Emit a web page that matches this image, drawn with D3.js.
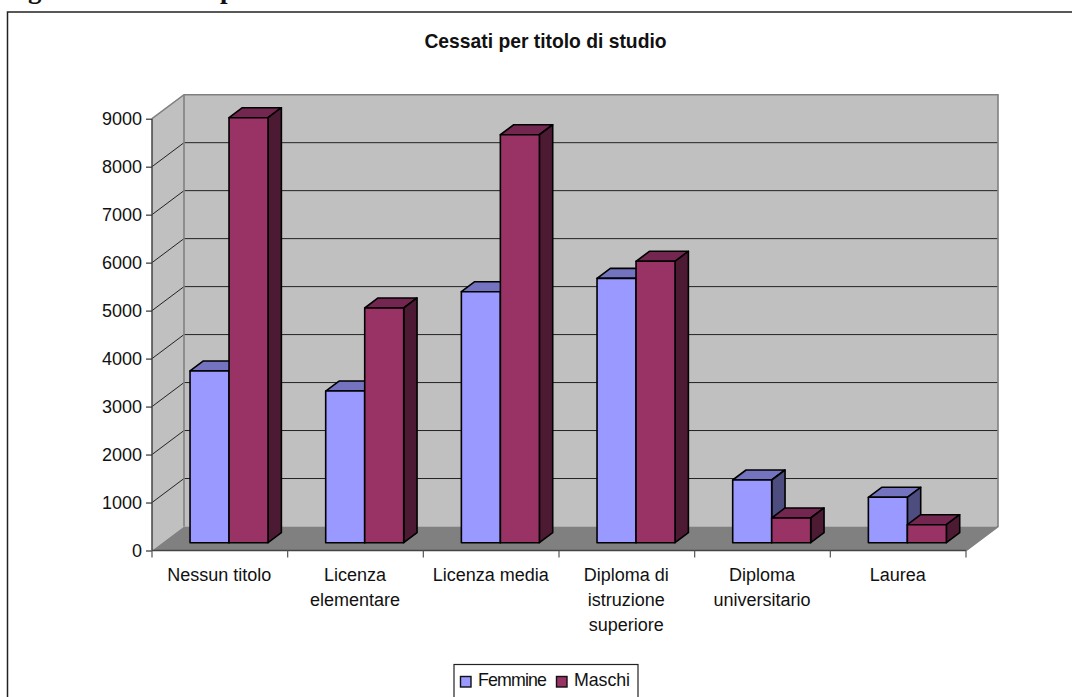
<!DOCTYPE html>
<html>
<head>
<meta charset="utf-8">
<script src="https://d3js.org/d3.v7.min.js"></script>
<style>
html, body { margin: 0; padding: 0; background: #fff; overflow: hidden; }
svg { display: block; }
text { font-family: "Liberation Sans", Arial, sans-serif; fill: #111; }
</style>
</head>
<body>
<svg id="chart" width="1072" height="697"></svg>
<script>
var title = "Cessati per titolo di studio";
var categories = ["Nessun titolo", "Licenza elementare", "Licenza media", "Diploma di istruzione superiore", "Diploma universitario", "Laurea"];
var categoryLines = [["Nessun titolo"], ["Licenza", "elementare"], ["Licenza media"], ["Diploma di", "istruzione", "superiore"], ["Diploma", "universitario"], ["Laurea"]];
var femmine = [3580, 3161, 5231, 5510, 1307, 946];
var maschi = [8858, 4892, 8503, 5865, 515, 375];
var yTicks = [0, 1000, 2000, 3000, 4000, 5000, 6000, 7000, 8000, 9000];
var seriesNames = ["Femmine", "Maschi"];
var seriesColors = [
    {front: "#9999ff", top: "#7373bf", side: "#4d4d80"},
    {front: "#993366", top: "#732650", side: "#4d1a33"}
];

var svg = d3.select("#chart");

// outer frame runs off the page on the right and at the bottom
svg.append("rect")
    .attr("x", 7.5).attr("y", 12)
    .attr("width", 1100).attr("height", 760)
    .attr("fill", "#fff").attr("stroke", "#222").attr("stroke-width", 1.5);

// bottoms of the heading above the frame, cut by the page edge
svg.append("text").attr("x", 28).attr("y", -2.5).style("font-family", "Liberation Serif")
    .style("font-weight", "bold").style("font-size", "27px").text("g");
svg.append("text").attr("x", 220).attr("y", -2.5).style("font-family", "Liberation Serif")
    .style("font-weight", "bold").style("font-size", "27px").text("p");

svg.append("text")
    .attr("x", 545.5).attr("y", 47.5)
    .attr("text-anchor", "middle")
    .style("font-weight", "bold").style("font-size", "19.3px")
    .text(title);

var left = 152, right = 966, bottom = 550.5, top9000 = 118.7;
var depthX = 32, depthY = 24;

var x = d3.scaleBand().domain(categories).range([left, right]);
var y = d3.scaleLinear().domain([0, 9000]).range([bottom, top9000]);
var series = d3.scaleBand().domain(seriesNames).range([0, 78]);

// project a point at depth t (0 front, 1 back wall) of the 3d box
function px(v, t) { return v + depthX * t; }
function py(v, t) { return y(v) - depthY * t; }
function poly(points) {
    return points.map(function(p) { return p.join(","); }).join(" ");
}

var wallTop = 9000;
// side wall
svg.append("polygon")
    .attr("points", poly([[left, y(0)], [px(left, 1), py(0, 1)], [px(left, 1), py(wallTop, 1)], [left, y(wallTop)]]))
    .attr("fill", "#c0c0c0");
// back wall
svg.append("polygon")
    .attr("points", poly([[px(left, 1), py(0, 1)], [px(right, 1), py(0, 1)], [px(right, 1), py(wallTop, 1)], [px(left, 1), py(wallTop, 1)]]))
    .attr("fill", "#c0c0c0");
// floor
svg.append("polygon")
    .attr("points", poly([[left, y(0)], [right, y(0)], [px(right, 1), py(0, 1)], [px(left, 1), py(0, 1)]]))
    .attr("fill", "#808080");

// gridlines on both walls
var grid = svg.append("g").attr("fill", "none").attr("stroke", "#222").attr("stroke-width", 1);
yTicks.slice(1, -1).forEach(function(t) {
    grid.append("polyline")
        .attr("points", poly([[left, y(t)], [px(left, 1), py(t, 1)], [px(right, 1), py(t, 1)]]));
});

// wall outlines
svg.append("polyline")
    .attr("points", poly([[left, y(wallTop)], [px(left, 1), py(wallTop, 1)], [px(right, 1), py(wallTop, 1)], [px(right, 1), py(0, 1)], [right, y(0)]]))
    .attr("fill", "none").attr("stroke", "#808080").attr("stroke-width", 1.6);
svg.append("line")
    .attr("x1", px(left, 1)).attr("x2", px(left, 1))
    .attr("y1", py(wallTop, 1)).attr("y2", py(0, 1))
    .attr("stroke", "#808080").attr("stroke-width", 1.6);

// bars, each is a box between two depths
var barDepth0 = 0.325, barDepth1 = 0.742;
var groupWidth = 78;

function drawBar(g, x0, x1, v, c) {
    var lines = {stroke: "#000", "stroke-width": 1.6, "stroke-linejoin": "round"};
    var faces = [
        [c.top, [[px(x0, barDepth0), py(v, barDepth0)], [px(x1, barDepth0), py(v, barDepth0)], [px(x1, barDepth1), py(v, barDepth1)], [px(x0, barDepth1), py(v, barDepth1)]]],
        [c.side, [[px(x1, barDepth0), py(0, barDepth0)], [px(x1, barDepth1), py(0, barDepth1)], [px(x1, barDepth1), py(v, barDepth1)], [px(x1, barDepth0), py(v, barDepth0)]]],
        [c.front, [[px(x0, barDepth0), py(0, barDepth0)], [px(x1, barDepth0), py(0, barDepth0)], [px(x1, barDepth0), py(v, barDepth0)], [px(x0, barDepth0), py(v, barDepth0)]]]
    ];
    faces.forEach(function(f) {
        var p = g.append("polygon").attr("points", poly(f[1])).attr("fill", f[0]);
        for (var k in lines) p.attr(k, lines[k]);
    });
}

var bars = svg.append("g");
categories.forEach(function(cat, i) {
    var start = x(cat) + x.bandwidth() / 2 - groupWidth / 2 - depthX * barDepth0 + 9.2;
    [femmine[i], maschi[i]].forEach(function(v, s) {
        var x0 = start + series(seriesNames[s]);
        drawBar(bars, x0, x0 + series.bandwidth(), v, seriesColors[s]);
    });
});

// value axis
var yAxis = svg.append("g")
    .attr("transform", "translate(" + left + ",0)")
    .call(d3.axisLeft(y).tickValues(yTicks).tickSize(6).tickPadding(4).tickFormat(d3.format("d")));
yAxis.selectAll("path").attr("d", "M0," + y(9000) + "V" + y(0)).attr("stroke", "#444").attr("stroke-width", 1.5);
yAxis.selectAll("line").attr("stroke", "#333").attr("stroke-width", 1.2);
yAxis.selectAll("text").style("font-size", "18px").attr("font-family", null).attr("fill", null);

// category axis
svg.append("line")
    .attr("x1", left).attr("x2", right).attr("y1", y(0)).attr("y2", y(0))
    .attr("stroke", "#444").attr("stroke-width", 1.5);
var edges = categories.map(function(c) { return x(c); }).concat([right]);
svg.selectAll(".xtick").data(edges).enter().append("line")
    .attr("class", "xtick")
    .attr("x1", function(d) { return d; }).attr("x2", function(d) { return d; })
    .attr("y1", y(0)).attr("y2", y(0) + 7)
    .attr("stroke", "#555").attr("stroke-width", 1.2);

categories.forEach(function(cat, i) {
    categoryLines[i].forEach(function(line, n) {
        svg.append("text")
            .attr("x", x(cat) + x.bandwidth() / 2 - 0.5)
            .attr("y", 581 + n * 25)
            .attr("text-anchor", "middle")
            .style("font-size", "18px")
            .text(line);
    });
});

// legend, its lower edge falls below the page
var legend = svg.append("g");
legend.append("rect")
    .attr("x", 454).attr("y", 664.5).attr("width", 184).attr("height", 50)
    .attr("fill", "#fff").attr("stroke", "#222").attr("stroke-width", 1.2);
var legendX = [460.5, 556.5];
var legendWidth = [69, 56];
seriesNames.forEach(function(name, i) {
    legend.append("rect")
        .attr("x", legendX[i]).attr("y", 676.5).attr("width", 10.5).attr("height", 10.5)
        .attr("fill", seriesColors[i].front).attr("stroke", "#111").attr("stroke-width", 1.4);
    legend.append("text")
        .attr("x", legendX[i] + 17.5).attr("y", 686)
        .attr("textLength", legendWidth[i])
        .style("font-size", "17.8px")
        .text(name);
});
</script>
</body>
</html>
